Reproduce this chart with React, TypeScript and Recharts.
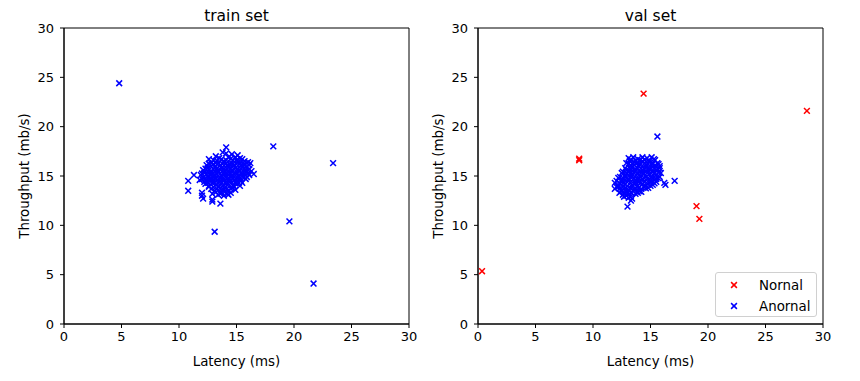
import React from 'react';
import {
  ScatterChart,
  Scatter,
  XAxis,
  YAxis,
  ReferenceArea,
} from 'recharts';

// values (latency ms, throughput mb/s)
const trainPoints: [number, number][] = [
  [14.1, 17.9], [14.1, 17.3], [13.2, 17.0], [15.1, 17.1], [14.6, 17.2], [13.8, 17.4],
  [12.6, 16.7], [13.0, 16.6], [13.5, 16.8], [13.9, 16.5], [14.3, 16.9], [14.7, 16.6],
  [15.3, 16.8], [15.7, 16.5], [16.0, 16.4], [14.9, 16.9], [12.8, 16.3],
  [12.4, 16.1], [12.8, 16.0], [13.2, 16.3], [13.6, 16.1], [13.9, 16.4], [14.2, 16.0],
  [14.5, 16.3], [14.8, 16.1], [15.1, 16.4], [15.4, 16.0], [15.7, 16.2], [16.1, 16.1], [16.2, 16.3],
  [12.1, 15.6], [12.5, 15.8], [12.8, 15.5], [13.1, 15.9], [13.4, 15.6], [13.7, 15.8],
  [14.0, 15.5], [14.3, 15.9], [14.6, 15.6], [14.9, 15.8], [15.2, 15.5], [15.5, 15.9],
  [15.8, 15.6], [16.1, 15.7], [16.3, 15.5],
  [11.9, 15.1], [12.2, 15.3], [12.5, 15.0], [12.8, 15.3], [13.1, 15.1], [13.4, 15.4],
  [13.7, 15.0], [14.0, 15.2], [14.3, 15.4], [14.6, 15.1], [14.9, 15.3], [15.2, 15.0],
  [15.5, 15.2], [15.8, 15.4], [16.1, 15.1], [16.5, 15.2],
  [11.8, 14.6], [12.1, 14.8], [12.4, 14.5], [12.7, 14.7], [13.0, 14.9], [13.3, 14.6],
  [13.6, 14.8], [13.9, 14.5], [14.2, 14.7], [14.5, 14.9], [14.8, 14.6], [15.1, 14.8],
  [15.4, 14.5], [15.8, 14.7], [15.9, 14.9],
  [12.3, 14.2], [12.6, 14.0], [12.9, 14.3], [13.2, 14.1], [13.5, 14.4], [13.8, 14.0],
  [14.1, 14.2], [14.4, 14.4], [14.7, 14.1], [15.0, 14.3], [15.3, 14.0], [15.5, 14.3],
  [12.8, 13.7], [13.1, 13.5], [13.4, 13.9], [13.7, 13.6], [14.0, 13.8], [14.3, 13.5],
  [14.6, 13.8], [14.9, 13.6], [14.5, 13.3], [12.9, 13.2],
  [13.4, 13.1], [13.9, 13.0], [14.2, 13.2], [13.7, 13.3],
  // filling the dense core
  [13.3, 16.55], [13.7, 16.7], [14.1, 16.6], [14.5, 16.75], [15.0, 16.6], [15.5, 16.7],
  [12.6, 16.25], [13.0, 16.2], [13.4, 16.25], [13.8, 16.2], [14.1, 16.3], [14.4, 16.15],
  [14.7, 16.25], [15.0, 16.2], [15.3, 16.3], [15.6, 16.15], [15.9, 16.3],
  [12.3, 15.75], [12.6, 15.6], [13.0, 15.7], [13.3, 15.8], [13.6, 15.65], [13.9, 15.75],
  [14.2, 15.7], [14.5, 15.8], [14.8, 15.7], [15.1, 15.75], [15.4, 15.7], [15.7, 15.8], [16.0, 15.6],
  [12.0, 15.25], [12.4, 15.2], [12.7, 15.15], [13.0, 15.3], [13.3, 15.2], [13.6, 15.25],
  [13.9, 15.35], [14.2, 15.2], [14.5, 15.3], [14.8, 15.2], [15.1, 15.3], [15.4, 15.35],
  [15.7, 15.2], [16.0, 15.3],
  [12.0, 14.7], [12.3, 14.75], [12.6, 14.9], [12.9, 14.7], [13.2, 14.8], [13.5, 14.7],
  [13.8, 14.75], [14.1, 14.9], [14.4, 14.7], [14.7, 14.8], [15.0, 14.7], [15.3, 14.75], [15.6, 14.9],
  [12.2, 14.4], [12.5, 14.3], [12.8, 14.45], [13.1, 14.3], [13.4, 14.25], [13.7, 14.35],
  [14.0, 14.3], [14.3, 14.2], [14.6, 14.35], [14.9, 14.25], [15.2, 14.3],
  [12.6, 13.9], [13.0, 13.85], [13.3, 13.7], [13.6, 13.8], [13.9, 13.65], [14.2, 13.75],
  [14.5, 13.7], [14.8, 13.9],
  [13.2, 13.35], [13.6, 13.2], [14.0, 13.4], [14.3, 13.1],
  // edge and outliers
  [10.8, 14.5], [10.8, 13.5], [11.3, 15.1], [12.0, 13.3], [12.0, 13.0], [12.1, 12.7],
  [12.9, 12.6], [12.9, 12.4], [13.6, 12.2], [13.1, 9.35],
  [4.8, 24.4], [18.2, 18.0], [19.6, 10.4], [21.7, 4.1], [23.4, 16.3],
];

const valAnomal: [number, number][] = [
  [13.1, 16.8], [13.5, 16.9], [13.9, 16.7], [14.3, 16.9], [14.7, 16.8], [15.1, 16.9], [15.4, 16.6], [13.2, 16.5],
  [12.9, 16.3], [13.3, 16.1], [13.6, 16.4], [14.0, 16.2], [14.3, 16.5], [14.6, 16.1],
  [14.9, 16.4], [15.2, 16.2], [15.6, 16.3], [15.8, 16.0],
  [12.8, 15.8], [13.1, 15.6], [13.4, 15.9], [13.7, 15.7], [14.0, 16.0], [14.3, 15.6],
  [14.6, 15.9], [14.9, 15.7], [15.2, 15.9], [15.5, 15.6], [15.8, 15.8],
  [12.5, 15.3], [12.8, 15.1], [13.1, 15.4], [13.4, 15.2], [13.7, 15.5], [14.0, 15.1],
  [14.3, 15.3], [14.6, 15.5], [14.9, 15.2], [15.2, 15.4], [15.5, 15.1], [15.9, 15.3],
  [12.2, 14.8], [12.5, 14.6], [12.8, 14.9], [13.1, 14.7], [13.4, 15.0], [13.7, 14.6],
  [14.0, 14.8], [14.3, 14.7], [14.6, 14.9], [14.9, 14.6], [15.2, 14.8], [15.5, 14.7], [15.8, 14.9],
  [11.9, 14.3], [12.2, 14.1], [12.5, 14.4], [12.8, 14.2], [13.1, 14.5], [13.4, 14.1],
  [13.7, 14.3], [14.0, 14.4], [14.3, 14.2], [14.6, 14.0], [14.9, 14.3], [15.2, 14.1], [15.5, 14.4],
  [11.9, 13.7], [12.2, 13.9], [12.5, 13.6], [12.8, 13.8], [13.1, 13.6], [13.4, 13.9],
  [13.7, 13.7], [14.0, 13.8], [14.4, 13.9], [14.8, 13.8], [15.0, 14.0],
  [12.3, 13.3], [12.6, 13.1], [12.9, 13.4], [13.2, 13.2], [13.5, 13.5], [13.9, 13.3], [14.2, 13.4],
  [12.7, 12.9], [13.1, 12.8], [13.4, 12.7], [13.0, 11.9], [13.3, 12.5],
  // filling the dense core
  [13.3, 16.65], [13.7, 16.55], [14.1, 16.6], [14.5, 16.65], [14.9, 16.55], [15.3, 16.7],
  [13.1, 16.25], [13.5, 16.2], [13.8, 16.3], [14.15, 16.2], [14.5, 16.3], [14.8, 16.2],
  [15.1, 16.25], [15.4, 16.1], [15.7, 16.2],
  [12.9, 15.6], [13.25, 15.75], [13.55, 15.6], [13.85, 15.8], [14.15, 15.75], [14.45, 15.7],
  [14.75, 15.6], [15.05, 15.75], [15.35, 15.8], [15.65, 15.7],
  [12.6, 15.45], [12.95, 15.25], [13.25, 15.3], [13.55, 15.35], [13.85, 15.25], [14.15, 15.45],
  [14.45, 15.25], [14.75, 15.35], [15.05, 15.3], [15.35, 15.25], [15.7, 15.4],
  [12.35, 14.9], [12.65, 14.75], [12.95, 14.8], [13.25, 14.9], [13.55, 14.75], [13.85, 14.7],
  [14.15, 14.9], [14.45, 14.8], [14.75, 14.75], [15.05, 14.9], [15.35, 14.65], [15.65, 14.8],
  [12.05, 14.5], [12.35, 14.25], [12.65, 14.3], [12.95, 14.4], [13.25, 14.3], [13.55, 14.2],
  [13.85, 14.45], [14.15, 14.3], [14.45, 14.4], [14.75, 14.2], [15.05, 14.45], [15.35, 14.25],
  [12.05, 13.9], [12.35, 13.75], [12.65, 13.95], [12.95, 13.7], [13.25, 13.8], [13.55, 13.65],
  [13.85, 13.95], [14.2, 13.7], [14.6, 13.75],
  [12.45, 13.45], [12.75, 13.25], [13.05, 13.35], [13.35, 13.3], [13.7, 13.2], [14.05, 13.45],
  [12.9, 13.0], [13.25, 12.9],
  // outliers
  [15.6, 19.0], [17.1, 14.5], [16.2, 14.3], [16.3, 14.1],
];

const valNormal: [number, number][] = [
  [0.35, 5.35], [8.8, 16.75], [8.8, 16.6], [14.4, 23.35], [19.0, 11.95], [19.25, 10.65], [28.6, 21.6],
];

const axisTicks = [0, 5, 10, 15, 20, 25, 30];

const FONT = '"DejaVu Sans", sans-serif';

const toRows = (pts: [number, number][]) => pts.map(([x, y]) => ({ x, y }));

const Cross = ({ cx, cy, fill }: any) => {
  const r = 2.9;
  return (
    <path
      d={`M${cx - r},${cy - r}L${cx + r},${cy + r}M${cx - r},${cy + r}L${cx + r},${cy - r}`}
      stroke={fill}
      strokeWidth={1.5}
      fill="none"
    />
  );
};

const XLabel = ({ viewBox }: any) => (
  <text
    x={viewBox.x + viewBox.width / 2}
    y={viewBox.y + 37}
    textAnchor="middle"
    dominantBaseline="central"
    fontSize={13.4}
    fontFamily={FONT}
    fill="#000"
  >
    Latency (ms)
  </text>
);

const YLabel = ({ viewBox }: any) => {
  const cx = 24;
  const cy = viewBox.y + viewBox.height / 2;
  return (
    <text
      x={cx}
      y={cy}
      transform={`rotate(-90 ${cx} ${cy})`}
      textAnchor="middle"
      dominantBaseline="central"
      fontSize={13.4}
      fontFamily={FONT}
      fill="#000"
    >
      Throughput (mb/s)
    </text>
  );
};

function Panel({ title, left, series }: { title: string; left: number; series: { data: any[]; color: string; name: string }[] }) {
  return (
    <div style={{ position: 'absolute', left, top: 0, width: 430, height: 381 }}>
      <div
        style={{
          position: 'absolute',
          left: 64,
          width: 345,
          top: 6,
          textAlign: 'center',
          fontFamily: FONT,
          fontSize: 15.5,
          lineHeight: '20px',
          color: '#000',
        }}
      >
        {title}
      </div>
      <ScatterChart width={430} height={381} margin={{ top: 28, right: 21, bottom: 27, left: 24 }}>
        <XAxis
          type="number"
          dataKey="x"
          domain={[0, 30]}
          ticks={axisTicks}
          height={30}
          tickSize={4}
          tickMargin={4}
          stroke="#000"
          tick={{ fill: '#000', fontSize: 13, fontFamily: FONT }}
          label={<XLabel />}
        />
        <YAxis
          type="number"
          dataKey="y"
          domain={[0, 30]}
          ticks={axisTicks}
          width={40}
          tickSize={4}
          tickMargin={6}
          stroke="#000"
          tick={{ fill: '#000', fontSize: 13, fontFamily: FONT }}
          label={<YLabel />}
        />
        <ReferenceArea x1={0} x2={30} y1={0} y2={30} fill="none" fillOpacity={0} stroke="#000" strokeWidth={1} />
        {series.map((s) => (
          <Scatter
            key={s.name}
            name={s.name}
            data={s.data}
            fill={s.color}
            shape={<Cross />}
            isAnimationActive={false}
          />
        ))}
      </ScatterChart>
    </div>
  );
}

export default function App() {
  return (
    <div style={{ position: 'absolute', left: 0, top: 0, width: 860, height: 381, background: '#fff' }}>
      <Panel title="train set" left={0} series={[{ name: 'train', data: toRows(trainPoints), color: '#0000ff' }]} />
      <Panel
        title="val set"
        left={414}
        series={[
          { name: 'Nornal', data: toRows(valNormal), color: '#ff0000' },
          { name: 'Anornal', data: toRows(valAnomal), color: '#0000ff' },
        ]}
      />
      {/* legend */}
      <div
        style={{
          position: 'absolute',
          left: 715,
          top: 272,
          width: 100,
          height: 43,
          border: '1px solid #d0d0d0',
          borderRadius: 3,
          background: 'rgba(255,255,255,0.8)',
          fontFamily: FONT,
          fontSize: 13.4,
          color: '#000',
        }}
      >
        {[
          { label: 'Nornal', color: '#ff0000' },
          { label: 'Anornal', color: '#0000ff' },
        ].map((item, i) => (
          <div key={item.label} style={{ position: 'absolute', left: 0, top: 4 + i * 21, height: 16, display: 'flex', alignItems: 'center' }}>
            <svg width={36} height={16}>
              <Cross cx={18} cy={8} fill={item.color} />
            </svg>
            <span style={{ marginLeft: 7 }}>{item.label}</span>
          </div>
        ))}
      </div>
    </div>
  );
}
